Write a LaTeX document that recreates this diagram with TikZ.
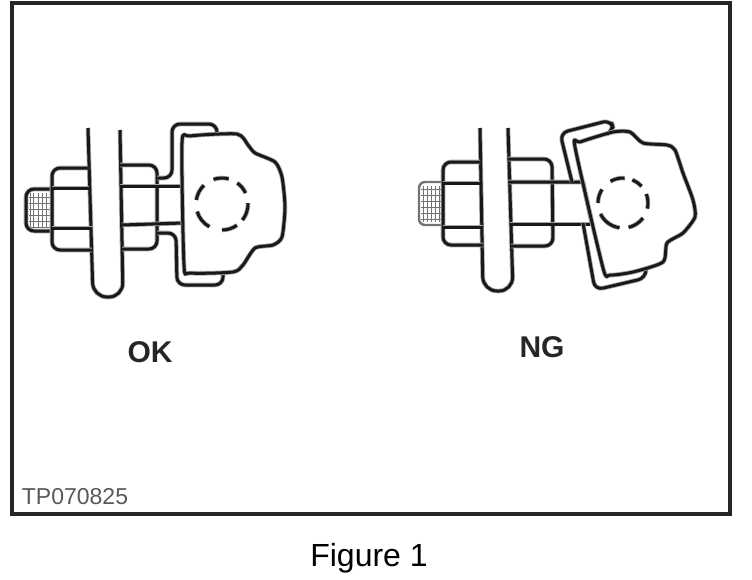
\documentclass[tikz,border=0pt]{standalone}
\usepackage{fontspec}
\setmainfont{Liberation Sans}
\tikzset{
	part/.style={draw=black!90,line width=1.5pt,line join=round,preaction={draw=black!35,line width=2.3pt,line join=round}},
	bent/.style={part,rounded corners=4pt},
	thread/.style={draw=black!55,line width=0.5pt},
	frame/.style={draw=black!85,line width=2.4pt},
	stamp/.style={font=\bfseries\fontsize{15}{15}\selectfont,text=black!85}
}
\begin{document}
\begin{tikzpicture}[x=0.5pt,y=-0.5pt]
	\useasboundingbox (0,0) rectangle (752,580);

	% Rahmen
	\draw[frame] (12,3) rectangle (730,514);

	% Linke Schraube: Gewinde
	\foreach \x in {30,34,...,50} \draw[thread] (\x,193) to (\x,228);
	\foreach \y in {197,203,...,227} \draw[thread] (29,\y) to (51,\y);
	\draw[bent] (52,189) to (26,189) to (26,231) to (52,231);

	% Linke Schraube: Blech
	\draw[bent,rounded corners=7pt] (88,128) to (93,297) to (123,297) to (120,130);

	% Linke Schraube: Muttern
	\draw[bent] (88,168) to (52,168) to (52,250) to (92,250);
	\draw[part] (52,188) to (89,188);
	\draw[part] (52,228) to (92,228);
	\draw[bent] (120,165) to (157,165) to (157,249) to (122,249);
	\draw[part] (120,186) to (183,186);
	\draw[part] (122,225) to (183,223);

	% Linke Schraube: Klemme
	\draw[bent] (157,178) to (172,178) to (172,124) to (217,124) to (217,132);
	\draw[bent] (157,233) to (176,233) to (177,285) to (223,285) to (223,273);
	\draw[part] plot[smooth cycle,tension=0.4] coordinates {(182,143) (190,136) (237,134) (248,145) (255,153) (275,162) (282,177) (285,207) (282,237) (273,245) (255,248) (243,265) (233,272) (190,273) (184,265)};

	% Linke Schraube: Bohrung
	\foreach \s/\e in {-109/-75,-54/-25,-2/38,55/90,119/163,189/226}
		\draw[part] (222,204) ++(\s:26) arc[start angle=\s,end angle=\e,radius=26];

	% Rechte Schraube: Gewinde
	\foreach \x in {423,427,...,441} \draw[thread] (\x,186) to (\x,222);
	\foreach \y in {189,195,...,219} \draw[thread] (421,\y) to (442,\y);
	\draw[thread,line width=1.2pt,rounded corners=3pt] (443,182) to (419,182) to (419,225) to (443,225);

	% Rechte Schraube: Blech
	\draw[bent,rounded corners=7pt] (480,128) to (483,291) to (513,291) to (508,128);

	% Rechte Schraube: Muttern
	\draw[bent] (480,162) to (443,162) to (443,245) to (483,245);
	\draw[part] (443,183) to (480,183);
	\draw[part] (443,227) to (483,227);
	\draw[bent] (508,159) to (552,159) to (553,246) to (511,246);
	\draw[part] (508,182) to (583,182) to (592,224);
	\draw[part] (510,224) to (590,224);

	% Rechte Schraube: Klemme
	\draw[bent] (572,182) to (560,133) to (611,120) to (614,131) to (609,133);
	\draw[bent] (583,223) to (595,290) to (646,278) to (646,268);
	\draw[part] plot[smooth cycle,tension=0.4] coordinates {(575,147) (603,268) (610,275) (633,272) (663,262) (667,243) (683,233) (695,217) (693,200) (683,173) (675,150) (667,145) (643,143) (630,132) (613,132) (580,142)};

	% Rechte Schraube: Bohrung
	\foreach \s/\e in {-120/-86,-68/-42,-21/13,37/77,98/154,180/213}
		\draw[part] (623,203) ++(\s:25) arc[start angle=\s,end angle=\e,radius=25];

	% Beschriftung
	\node[stamp] (ok) at (150,352) {OK};
	\node[stamp] (ng) at (542,347) {NG};
	\node[font=\fontsize{11.5}{11.5}\selectfont,text=black!65] (code) at (75,497) {TP070825};
	\node[font=\fontsize{16}{16}\selectfont] (caption) at (369,558) {Figure 1};
\end{tikzpicture}
\end{document}
